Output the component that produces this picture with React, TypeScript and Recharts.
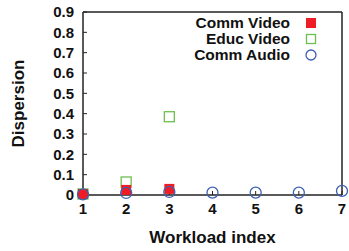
import { ScatterChart, Scatter, XAxis, YAxis, Legend } from "recharts";

const workloads = [1, 2, 3, 4, 5, 6, 7];
const commVideo = [0.005, 0.025, 0.03];
const educVideo = [0.005, 0.064, 0.385];
const commAudio = [0.003, 0.01, 0.015, 0.012, 0.012, 0.012, 0.02];
const yTicks = [0, 0.1, 0.2, 0.3, 0.4, 0.5, 0.6, 0.7, 0.8, 0.9];

const RED = "#ee1c24";
const GREEN = "#6cbf4e";
const BLUE = "#3d5fb3";
const FONT = "'Liberation Sans', Arial, sans-serif";

const toPts = (vals: number[]) => vals.map((v, i) => ({ x: workloads[i], y: v }));

const RedSquare = (p: any) => <rect x={p.cx - 5} y={p.cy - 5} width={10} height={10} fill={RED} />;
const GreenSquare = (p: any) => (
  <rect x={p.cx - 5} y={p.cy - 5} width={10} height={10} fill="none" stroke={GREEN} strokeWidth={1.3} />
);
const BlueCircle = (p: any) => <circle cx={p.cx} cy={p.cy} r={5.5} fill="none" stroke={BLUE} strokeWidth={1.3} />;

const legendRows = [
  { name: "Comm Video", sym: <rect x={1} y={1} width={10} height={10} fill={RED} /> },
  { name: "Educ Video", sym: <rect x={1.5} y={1.5} width={9} height={9} fill="none" stroke={GREEN} strokeWidth={1.3} /> },
  { name: "Comm Audio", sym: <circle cx={6} cy={6} r={5} fill="none" stroke={BLUE} strokeWidth={1.3} /> },
];

const LegendBox = () => (
  <div style={{ fontFamily: FONT, fontWeight: "bold", fontSize: 15.5, color: "#111" }}>
    {legendRows.map(r => (
      <div key={r.name} style={{ display: "flex", justifyContent: "flex-end", alignItems: "center", height: 16 }}>
        <span>{r.name}</span>
        <svg width={12} height={12} style={{ marginLeft: 15 }}>{r.sym}</svg>
      </div>
    ))}
  </div>
);

const tickStyle = { fontFamily: FONT, fontWeight: "bold", fontSize: 15, fill: "#111" };
const axisLine = { stroke: "#222", strokeWidth: 1.5 };

export default function App() {
  return (
    <div style={{ position: "absolute", left: 0, top: 0, background: "#fff" }}>
      <ScatterChart width={349} height={251} margin={{ top: 12, right: 7, left: 0, bottom: 0 }}>
        <XAxis xAxisId="b" dataKey="x" type="number" domain={[1, 7]} ticks={workloads} height={56} interval={0}
          tick={tickStyle} axisLine={axisLine} tickLine={{ stroke: "#222" }} tickSize={-4} tickMargin={12}
          label={{ value: "Workload index", position: "center", dy: 14, style: { fontFamily: FONT, fontWeight: "bold", fontSize: 17, fill: "#111" } }} />
        <XAxis xAxisId="t" orientation="top" mirror dataKey="x" type="number" domain={[1, 7]} ticks={workloads} interval={0}
          tickFormatter={() => ""} axisLine={axisLine} tickLine={{ stroke: "#222" }} tickSize={4} />
        <YAxis yAxisId="l" dataKey="y" type="number" domain={[0, 0.9]} ticks={yTicks} width={83} interval={0}
          tick={tickStyle} axisLine={axisLine} tickLine={{ stroke: "#222" }} tickSize={-4} tickMargin={13}
          label={{ value: "Dispersion", angle: -90, position: "center", dx: -24, style: { fontFamily: FONT, fontWeight: "bold", fontSize: 17, fill: "#111" } }} />
        <YAxis yAxisId="r" orientation="right" mirror dataKey="y" type="number" domain={[0, 0.9]} ticks={yTicks} interval={0}
          tickFormatter={() => ""} axisLine={axisLine} tickLine={{ stroke: "#222" }} tickSize={4} />
        <Legend verticalAlign="middle" align="center" layout="vertical" content={<LegendBox />}
          wrapperStyle={{ top: 15, right: 32, left: "auto", bottom: "auto", width: "auto" }} />
        <Scatter name="Educ Video" data={toPts(educVideo)} xAxisId="b" yAxisId="l" shape={GreenSquare} isAnimationActive={false} />
        <Scatter name="Comm Video" data={toPts(commVideo)} xAxisId="b" yAxisId="l" shape={RedSquare} isAnimationActive={false} />
        <Scatter name="Comm Audio" data={toPts(commAudio)} xAxisId="b" yAxisId="l" shape={BlueCircle} isAnimationActive={false} />
      </ScatterChart>
    </div>
  );
}
